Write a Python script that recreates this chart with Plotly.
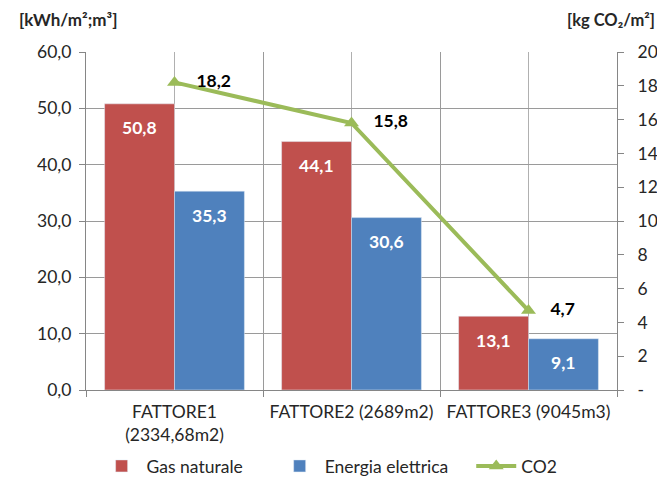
import plotly.graph_objects as go

categories = ["FATTORE1<br>(2334,68m2)", "FATTORE2 (2689m2)", "FATTORE3 (9045m3)"]
gas = [50.8, 44.1, 13.1]
elettrica = [35.3, 30.6, 9.1]
co2 = [18.2, 15.8, 4.7]
left_ticks = [0, 10, 20, 30, 40, 50, 60]
right_ticks = [0, 2, 4, 6, 8, 10, 12, 14, 16, 18, 20]
right_ticktext = ["-"] + [str(v) for v in right_ticks[1:]]

xs = list(range(len(categories)))
fmt = lambda v: f"{v:.1f}".replace(".", ",")
FONT = "Lato"
FS = 17.5
NB = "\u00a0"

W, H = 657, 478
ML, MR, MT, MB = 78, 48, 44, 96
BARGAP = 0.21
plot_w = W - ML - MR
bar_px = plot_w / len(categories) * (1 - BARGAP) / 2

fig = go.Figure()
fig.add_trace(go.Bar(x=xs, y=gas, name="Gas naturale" + NB * 6, marker_color="#C0504D"))
fig.add_trace(go.Bar(x=xs, y=elettrica, name="Energia elettrica" + NB * 4, marker_color="#4F81BD"))
fig.add_trace(go.Scatter(
    x=xs, y=co2, name="CO2", yaxis="y2", mode="lines+markers+text",
    line=dict(color="#9BBB59", width=4),
    marker=dict(symbol="triangle-up", size=13, color="#9BBB59"),
    text=["   " + fmt(v) for v in co2], textposition="middle right",
    textfont=dict(color="black", size=FS, family=FONT, weight="bold"),
))

annotations = []
for series, sign in ((gas, -1), (elettrica, 1)):
    for x, v in zip(xs, series):
        annotations.append(dict(
            x=x, y=v, xref="x", yref="y", text=f"<b>{fmt(v)}</b>", showarrow=False,
            xshift=sign * bar_px / 2, yshift=-24, xanchor="center", yanchor="middle",
            font=dict(color="white", size=FS, family=FONT)))

annotations += [
    dict(text="<b>[kWh/m²;m³]</b>", xref="paper", yref="paper", x=-0.13, y=1.095,
         xanchor="left", yanchor="middle", showarrow=False,
         font=dict(size=17, family=FONT, color="#262626")),
    dict(text="<b>[kg CO₂/m²]</b>", xref="paper", yref="paper", x=1.076, y=1.095,
         xanchor="right", yanchor="middle", showarrow=False,
         font=dict(size=16.5, family=FONT, color="#262626")),
]

fig.update_layout(
    width=W, height=H,
    margin=dict(l=ML, r=MR, t=MT, b=MB, autoexpand=False),
    plot_bgcolor="white", paper_bgcolor="white",
    font=dict(family=FONT, size=FS, color="#262626"),
    separators=",.",
    barmode="group", bargap=BARGAP, bargroupgap=0,
    showlegend=True,
    legend=dict(orientation="h", x=0.02, xanchor="left", y=-0.225, yanchor="middle",
                font=dict(size=FS, family=FONT), traceorder="normal", itemwidth=40),
    xaxis=dict(
        range=[-0.5, len(categories) - 0.5],
        tickvals=xs, ticktext=categories, ticks="", automargin=False,
        ticklabelstandoff=6,
        showgrid=True, gridcolor="#b0b0b0", gridwidth=1,
        showline=True, linecolor="#868686", linewidth=1,
        minor=dict(tickvals=[i - 0.5 for i in range(len(categories) + 1)],
                   ticks="outside", ticklen=6, tickcolor="#868686",
                   showgrid=True, gridcolor="#9a9a9a", gridwidth=1),
        zeroline=False,
    ),
    yaxis=dict(
        range=[0, 60], tickvals=left_ticks, tickformat=".1f", automargin=False,
        ticks="outside", ticklen=6, tickcolor="#868686", ticklabelstandoff=4,
        showgrid=True, gridcolor="#9a9a9a", gridwidth=1,
        showline=True, linecolor="#868686", linewidth=1, zeroline=False,
    ),
    yaxis2=dict(
        range=[0, 20], tickvals=right_ticks, ticktext=right_ticktext,
        overlaying="y", side="right", automargin=False,
        ticks="outside", ticklen=6, tickcolor="#868686", ticklabelstandoff=10,
        showgrid=False, showline=True, linecolor="#868686", linewidth=1,
        zeroline=False,
    ),
    annotations=annotations,
)

fig.write_html("out.html")
